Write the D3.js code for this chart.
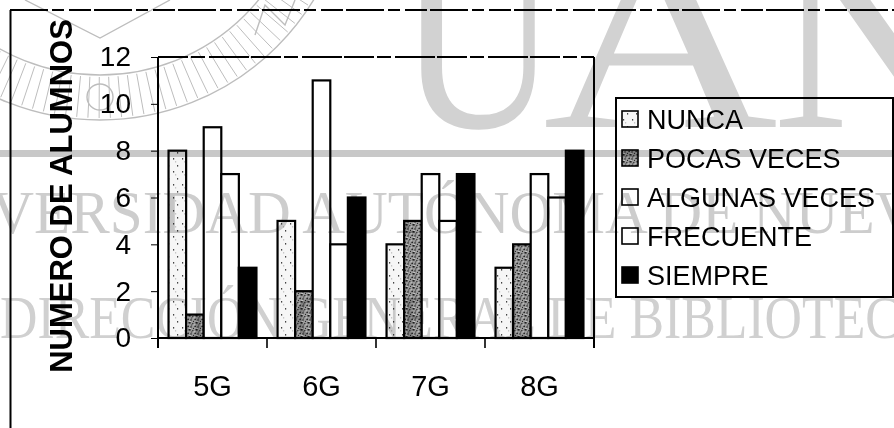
<!DOCTYPE html>
<html><head><meta charset="utf-8">
<script src="https://cdn.jsdelivr.net/npm/d3@7"></script>
<style>html,body{margin:0;padding:0;background:#fff;} svg{display:block;}</style>
</head><body>
<svg id="chart" width="894" height="428"></svg>
<script>
// ---- data ----
const categories = ["5G", "6G", "7G", "8G"];
const seriesNames = ["NUNCA", "POCAS VECES", "ALGUNAS VECES", "FRECUENTE", "SIEMPRE"];
const nunca = [8, 5, 4, 3];
const pocasVeces = [1, 2, 5, 4];
const algunasVeces = [9, 11, 7, 7];
const frecuente = [7, 4, 5, 6];
const siempre = [3, 6, 7, 8];
const yTicks = [0, 2, 4, 6, 8, 10, 12];
const yTitle = "NUMERO DE ALUMNOS";
const watermarkBig = ["U", "A", "N"];
const watermarkLine1 = "UNIVERSIDAD AUTÓNOMA DE NUEVO LEÓN";
const watermarkLine2 = "DIRECCIÓN GENERAL DE BIBLIOTECAS";

const seriesValues = [nunca, pocasVeces, algunasVeces, frecuente, siempre];
const fills = ["url(#pNunca)", "url(#pPocas)", "#ffffff", "#ffffff", "#000000"];

const svg = d3.select("#chart");
const FONT = "'Liberation Sans', Arial, sans-serif";
const SERIF = "'Liberation Serif', 'Times New Roman', serif";

// ---- patterns (scanned stipple look) ----
const defs = svg.append("defs");
const p1 = defs.append("pattern").attr("id", "pNunca").attr("patternUnits", "userSpaceOnUse")
  .attr("width", 9).attr("height", 13);
p1.append("rect").attr("width", 9).attr("height", 13).attr("fill", "#f6f6f6");
[[2, 2], [6, 9], [4, 5.5]].forEach(([cx, cy], k) => p1.append("rect").attr("x", cx).attr("y", cy)
  .attr("width", 1.2).attr("height", k === 2 ? 0.8 : 1.6).attr("fill", k === 2 ? "#999" : "#444"));
const p2 = defs.append("pattern").attr("id", "pPocas").attr("patternUnits", "userSpaceOnUse")
  .attr("width", 7).attr("height", 7);
p2.append("rect").attr("width", 7).attr("height", 7).attr("fill", "#9a9a9a");
[[0, 0, 1.6], [3.2, 1.1, 1.2], [5.4, 3.6, 1.5], [1.4, 4.3, 1.3], [4, 5.9, 1.0], [6, 0.4, 0.9], [2.2, 2.6, 0.9]]
  .forEach(([cx, cy, s]) => p2.append("rect").attr("x", cx).attr("y", cy)
    .attr("width", s).attr("height", s).attr("fill", "#1e1e1e"));
[[4.6, 2.4], [0.6, 6.1]].forEach(([cx, cy]) => p2.append("rect").attr("x", cx).attr("y", cy)
  .attr("width", 1).attr("height", 1).attr("fill", "#e8e8e8"));

// ---- outer frame ----
svg.append("line").attr("x1", 10).attr("x2", 894).attr("y1", 10).attr("y2", 10)
  .attr("stroke", "#000").attr("stroke-width", 2).attr("stroke-dasharray", "38,4,12,5,22,3");
svg.append("line").attr("x1", 10.5).attr("x2", 10.5).attr("y1", 10).attr("y2", 428)
  .attr("stroke", "#000").attr("stroke-width", 2);

// ---- scales ----
const plot = {left: 158, right: 594, top: 57, bottom: 338};
const y = d3.scaleLinear().domain([0, 12]).range([plot.bottom, plot.top]);
const x0 = d3.scaleBand().domain(categories).range([plot.left, plot.right]).padding(0);
const x1 = d3.scaleBand().domain(seriesNames).range([0, x0.bandwidth()]).paddingInner(0).paddingOuter(0.6);

// ---- bars ----
const barsG = svg.append("g");
categories.forEach((c, i) => {
  seriesNames.forEach((s, j) => {
    const v = seriesValues[j][i];
    barsG.append("rect")
      .attr("x", x0(c) + x1(s)).attr("y", y(v))
      .attr("width", x1.bandwidth()).attr("height", y(0) - y(v))
      .attr("fill", fills[j]).attr("stroke", "#000").attr("stroke-width", 2.2);
  });
});

// ---- plot border ----
svg.append("line").attr("x1", plot.left).attr("x2", plot.right).attr("y1", y(12)).attr("y2", y(12))
  .attr("stroke", "#000").attr("stroke-width", 2).attr("stroke-dasharray", "30,3,14,4,40,2");
svg.append("line").attr("x1", plot.right).attr("x2", plot.right).attr("y1", y(12)).attr("y2", plot.bottom + 10)
  .attr("stroke", "#000").attr("stroke-width", 2);

// ---- y axis ----
const yAxis = svg.append("g").attr("transform", `translate(${plot.left},0)`)
  .call(d3.axisLeft(y).tickValues(yTicks).tickSize(7).tickPadding(20).tickFormat(d3.format("d")));
yAxis.select(".domain").remove();
yAxis.selectAll(".tick line").attr("stroke", "#000").attr("stroke-width", 1);
yAxis.selectAll("text").attr("font-family", FONT).attr("font-size", 28).attr("fill", "#000");
svg.append("line").attr("x1", plot.left).attr("x2", plot.left).attr("y1", y(12)).attr("y2", plot.bottom + 10)
  .attr("stroke", "#000").attr("stroke-width", 2);

// ---- x axis ----
const xAxis = svg.append("g").attr("transform", `translate(0,${plot.bottom})`)
  .call(d3.axisBottom(x0).tickSize(0).tickPadding(37));
xAxis.select(".domain").remove();
xAxis.selectAll("text").attr("font-family", FONT).attr("font-size", 29).attr("fill", "#000");
svg.append("line").attr("x1", plot.left).attr("x2", plot.right).attr("y1", plot.bottom).attr("y2", plot.bottom)
  .attr("stroke", "#000").attr("stroke-width", 2);
const bounds = categories.map(c => x0(c)).concat([x0.range()[1]]);
svg.append("g").selectAll("line").data(bounds).join("line")
  .attr("x1", d => d).attr("x2", d => d).attr("y1", plot.bottom).attr("y2", plot.bottom + 10)
  .attr("stroke", "#000").attr("stroke-width", 1.6);

// ---- y title ----
svg.append("text").attr("transform", "translate(72,196) rotate(-90)")
  .attr("text-anchor", "middle").attr("font-family", FONT).attr("font-weight", "bold")
  .attr("font-size", 31).attr("fill", "#000").text(yTitle);

// ---- legend ----
const leg = svg.append("g");
leg.append("rect").attr("x", 616).attr("y", 98).attr("width", 277).attr("height", 199)
  .attr("fill", "#fff").attr("stroke", "#000").attr("stroke-width", 2);
seriesNames.forEach((s, j) => {
  const cy = 119 + j * 39;
  leg.append("rect").attr("x", 622).attr("y", cy - 8).attr("width", 16).attr("height", 16)
    .attr("fill", fills[j]).attr("stroke", "#000").attr("stroke-width", 1.6);
  leg.append("text").attr("x", 647).attr("y", cy + 9.5).attr("font-family", FONT)
    .attr("font-size", 27).attr("fill", "#000").text(s);
});

// ---- scanned watermark (multiplied over the chart) ----
const wm = svg.append("g").style("mix-blend-mode", "multiply");
const seal = wm.append("g").attr("fill", "none").attr("stroke", "#bdbdbd").attr("stroke-width", 1.4);
seal.append("circle").attr("cx", 100).attr("cy", -130).attr("r", 250);
seal.append("circle").attr("cx", 100).attr("cy", -130).attr("r", 205);
d3.range(20, 160, 2.6).forEach(a => {
  const r = a * Math.PI / 180;
  seal.append("line")
    .attr("x1", 100 + 207 * Math.cos(r)).attr("y1", -130 + 207 * Math.sin(r))
    .attr("x2", 100 + 248 * Math.cos(r)).attr("y2", -130 + 248 * Math.sin(r))
    .attr("stroke-width", 1);
});
seal.append("circle").attr("cx", 100).attr("cy", 97).attr("r", 13);
seal.append("polyline").attr("points", "25,0 100,38 170,0");
seal.append("polyline").attr("points", "255,35 265,5 285,25 295,0");

const bigX = [398, 543, 772], bigW = [160, 235, 200];
watermarkBig.forEach((ch, k) => {
  wm.append("text").attr("x", bigX[k]).attr("y", 127).attr("font-family", SERIF)
    .attr("font-size", 270).attr("fill", "#d2d2d2").attr("textLength", bigW[k])
    .attr("lengthAdjust", "spacingAndGlyphs").text(ch);
});
wm.append("rect").attr("x", 0).attr("y", 150).attr("width", 894).attr("height", 7).attr("fill", "#c8c8c8");
wm.append("text").attr("x", -114).attr("y", 233).attr("font-family", SERIF)
  .attr("font-size", 62).attr("fill", "#cdcdcd").attr("textLength", 1247)
  .attr("lengthAdjust", "spacingAndGlyphs").text(watermarkLine1);
wm.append("text").attr("x", 0).attr("y", 338).attr("font-family", SERIF)
  .attr("font-size", 62).attr("fill", "#d0d0d0").attr("textLength", 966)
  .attr("lengthAdjust", "spacingAndGlyphs").text(watermarkLine2);
</script>
</body></html>
